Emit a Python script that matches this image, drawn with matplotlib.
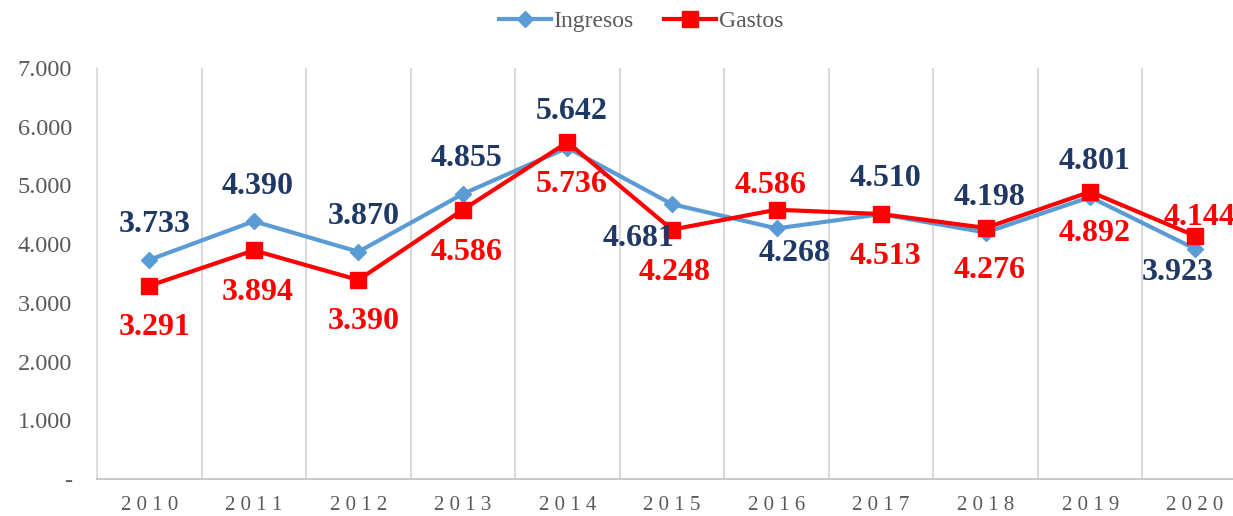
import numpy as np
import matplotlib.pyplot as plt
from matplotlib.ticker import FixedLocator, FuncFormatter

years = ['2010', '2011', '2012', '2013', '2014', '2015', '2016', '2017', '2018', '2019', '2020']
ingresos = [3733, 4390, 3870, 4855, 5642, 4681, 4268, 4510, 4198, 4801, 3923]
gastos = [3291, 3894, 3390, 4586, 5736, 4248, 4586, 4513, 4276, 4892, 4144]

# label offsets in pixels (dx, dy) relative to each point
ing_off = [(5, 35), (4, 35), (5, 35), (4, 35), (4, 36), (-33, -34), (18, -25), (4, 36), (4, 35), (4, 36), (-17, -24)]
gas_off = [(5, -42), (4, -42), (5, -42), (4, -43), (4, -42), (3, -43), (-6, 24), (4, -42), (4, -43), (4, -42), (5, 18)]

plt.rcParams['font.family'] = ['Liberation Serif', 'DejaVu Serif']

fig = plt.figure(figsize=(12.33, 5.16), dpi=100)
ax = fig.add_axes([97 / 1233, 37 / 516, 1150 / 1233, 411 / 516])

x = np.arange(len(years))
ax.plot(x, ingresos, color='#5B9BD5', lw=3, marker='D', ms=8, label='Ingresos', zorder=3)
ax.plot(x, gastos, color='#FF0000', lw=3, marker='s', ms=12, label='Gastos', zorder=4)

def fmt(v):
    return '{:,}'.format(v).replace(',', '.')

for i in range(len(years)):
    ax.annotate(fmt(ingresos[i]), (x[i], ingresos[i]), xytext=ing_off[i], textcoords='offset pixels',
                ha='center', va='center', fontsize=23, fontweight='bold', color='#1F3864', zorder=5)
    ax.annotate(fmt(gastos[i]), (x[i], gastos[i]), xytext=gas_off[i], textcoords='offset pixels',
                ha='center', va='center', fontsize=23, fontweight='bold', color='#FF0000', zorder=5)

ax.set_xlim(-0.5, len(years) - 0.5)
ax.set_ylim(0, 7000)
ax.set_yticks(range(0, 7001, 1000))
ax.yaxis.set_major_formatter(FuncFormatter(lambda v, p: '-' if v == 0 else fmt(int(v))))
ax.set_xticks(x)
ax.set_xticklabels([' '.join(y) for y in years])
ax.xaxis.set_minor_locator(FixedLocator(np.arange(-0.5, len(years), 1)))
ax.grid(which='minor', axis='x', color='#D9D9D9', lw=1.5)
ax.tick_params(axis='both', which='both', length=0)
ax.tick_params(axis='y', labelsize=17.5, labelcolor='#595959', pad=18)
ax.tick_params(axis='x', labelsize=15, labelcolor='#595959', pad=12)

for s in ['top', 'right']:
    ax.spines[s].set_visible(False)
ax.spines['left'].set_color('#D9D9D9')
ax.spines['bottom'].set_color('#BFBFBF')
ax.spines['left'].set_linewidth(1.2)
ax.spines['bottom'].set_linewidth(1.2)

leg = fig.legend(loc='upper center', bbox_to_anchor=(0.52, 1.02), ncol=2, frameon=False,
                 fontsize=17, handlelength=2.2, columnspacing=1.3, handletextpad=0.1)
for t in leg.get_texts():
    t.set_color('#595959')

fig.savefig('out.png', dpi=100)
